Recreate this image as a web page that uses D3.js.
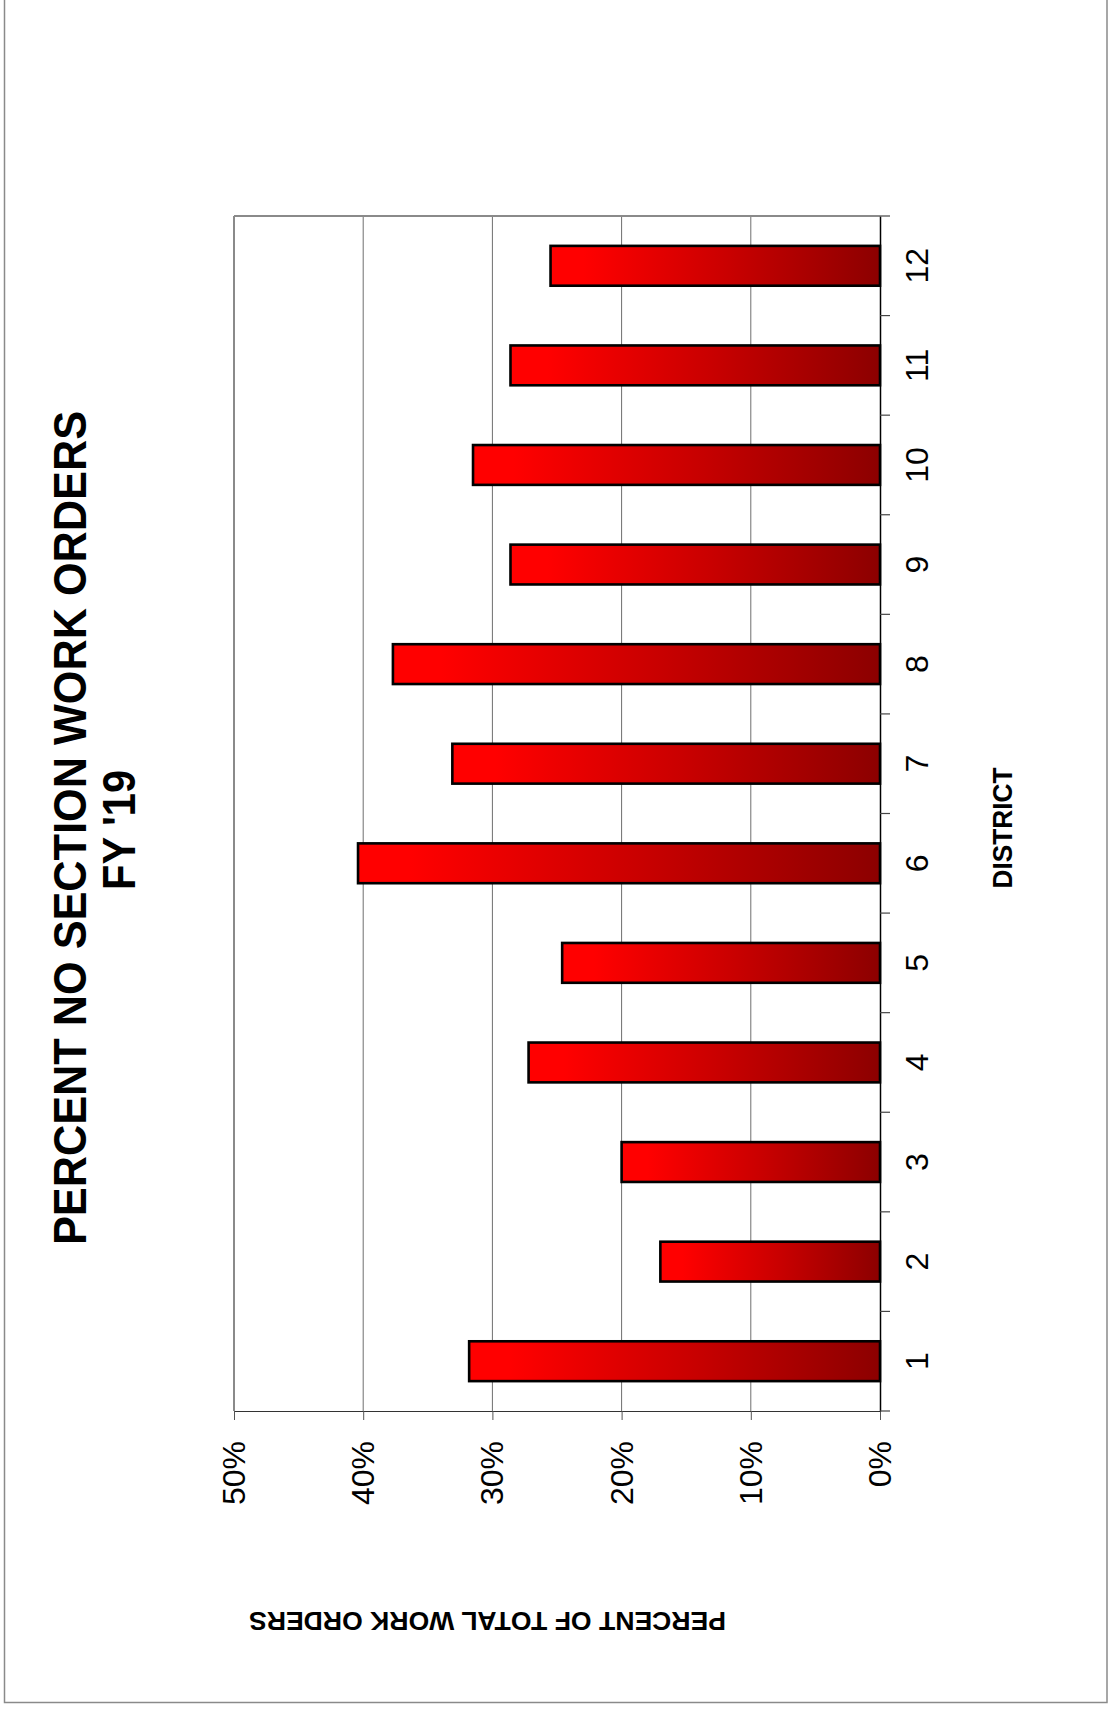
<!DOCTYPE html>
<html>
<head>
<meta charset="utf-8">
<script src="https://cdn.jsdelivr.net/npm/d3@7/dist/d3.min.js"></script>
<style>
  html, body { margin: 0; padding: 0; background: #fff; }
  svg { display: block; }
  text { font-family: "Liberation Sans", Arial, sans-serif; fill: #000; }
</style>
</head>
<body>
<svg id="chart" width="1110" height="1709"></svg>
<script>
// ---- data ----
const districts = ["1","2","3","4","5","6","7","8","9","10","11","12"];
const percentNoSection = [0.318, 0.170, 0.200, 0.272, 0.246, 0.404, 0.331, 0.377, 0.286, 0.315, 0.286, 0.255];
const valueTicks = [0, 0.1, 0.2, 0.3, 0.4, 0.5];
const titleLines = ["PERCENT NO SECTION WORK ORDERS", "FY '19"];
const categoryAxisTitle = "DISTRICT";
const valueAxisTitle = "PERCENT OF TOTAL WORK ORDERS";

const svg = d3.select("#chart");

// outer frame
svg.append("rect")
  .attr("x", 4.5).attr("y", -3).attr("width", 1102.5).attr("height", 1705.5)
  .attr("fill", "none").attr("stroke", "#8a8a8a").attr("stroke-width", 1.5);

// plot geometry (chart is rotated: value axis horizontal, 0% at right)
const plotLeft = 234, plotRight = 880, plotTop = 216, plotBottom = 1411;

const x = d3.scaleLinear().domain([0, 0.5]).range([plotRight, plotLeft]);
const y = d3.scaleBand().domain(districts).range([plotBottom, plotTop])
  .paddingInner(0.6).paddingOuter(0.3);

// gradient per bar
const defs = svg.append("defs");
const grad = defs.append("linearGradient").attr("id", "barGrad")
  .attr("x1", "0").attr("y1", "0").attr("x2", "1").attr("y2", "0");
grad.append("stop").attr("offset", "0").attr("stop-color", "#ff0000");
grad.append("stop").attr("offset", "0.1").attr("stop-color", "#ff0000");
grad.append("stop").attr("offset", "0.55").attr("stop-color", "#c80000");
grad.append("stop").attr("offset", "1").attr("stop-color", "#8c0000");

// gridlines
svg.append("g").selectAll("line")
  .data(valueTicks.filter(v => v > 0 && v < 0.5))
  .join("line")
  .attr("x1", d => x(d)).attr("x2", d => x(d))
  .attr("y1", plotTop).attr("y2", plotBottom)
  .attr("stroke", "#6e6e6e").attr("stroke-width", 1);

// plot area border (top, left)
svg.append("line").attr("x1", plotLeft).attr("x2", plotRight)
  .attr("y1", plotTop).attr("y2", plotTop)
  .attr("stroke", "#8a8a8a").attr("stroke-width", 2);
svg.append("line").attr("x1", plotLeft).attr("x2", plotLeft)
  .attr("y1", plotTop).attr("y2", plotBottom)
  .attr("stroke", "#8a8a8a").attr("stroke-width", 2);

// value axis (bottom)
const xAxis = d3.axisBottom(x).tickValues(valueTicks).tickSize(9).tickFormat("");
const gx = svg.append("g").attr("transform", `translate(0,${plotBottom})`).call(xAxis);
gx.select(".domain").attr("stroke", "#333").attr("stroke-width", 1);
gx.selectAll(".tick line").attr("stroke", "#555").attr("stroke-width", 1);

// value tick labels rotated
svg.append("g").selectAll("text")
  .data(valueTicks)
  .join("text")
  .attr("transform", d => `translate(${x(d) + 11},${plotBottom + 30}) rotate(-90)`)
  .attr("text-anchor", "end")
  .attr("font-size", 32)
  .text(d => d3.format(".0%")(d));

// bars
const step = y.step(), bw = y.bandwidth();
svg.append("g").selectAll("rect")
  .data(districts.map((d, i) => ({ d, v: percentNoSection[i] })))
  .join("rect")
  .attr("x", r => x(r.v))
  .attr("y", r => y(r.d))
  .attr("width", r => x(0) - x(r.v))
  .attr("height", bw)
  .attr("fill", "url(#barGrad)")
  .attr("stroke", "#000").attr("stroke-width", 2.6);

// category axis (right, at 0%)
const yAxis = d3.axisRight(y).tickSize(0).tickFormat("");
const gy = svg.append("g").attr("transform", `translate(${plotRight},0)`).call(yAxis);
gy.select(".domain").attr("stroke", "#000").attr("stroke-width", 1.5);

// boundary ticks between categories
const bounds = districts.map(d => y(d) - (step - bw) / 2).concat([plotBottom]);
svg.append("g").selectAll("line")
  .data(bounds)
  .join("line")
  .attr("x1", plotRight).attr("x2", plotRight + 10)
  .attr("y1", d => d).attr("y2", d => d)
  .attr("stroke", "#444").attr("stroke-width", 1.2);

// category labels rotated
svg.append("g").selectAll("text")
  .data(districts)
  .join("text")
  .attr("transform", d => `translate(928,${y(d) + bw / 2}) rotate(-90)`)
  .attr("text-anchor", "middle")
  .attr("font-size", 32)
  .text(d => d);

// title (rotated)
const titleX = [86, 135], titleY = [828, 830], titleLen = [834, 120];
svg.append("g").selectAll("text")
  .data(titleLines)
  .join("text")
  .attr("transform", (d, i) => `translate(${titleX[i]},${titleY[i]}) rotate(-90)`)
  .attr("text-anchor", "middle")
  .attr("font-size", 46)
  .attr("font-weight", "bold")
  .attr("textLength", (d, i) => titleLen[i])
  .attr("lengthAdjust", "spacingAndGlyphs")
  .text(d => d);

// category axis title
svg.append("text")
  .attr("transform", "translate(1012,828) rotate(-90)")
  .attr("text-anchor", "middle")
  .attr("font-size", 28)
  .attr("font-weight", "bold")
  .attr("textLength", 121)
  .attr("lengthAdjust", "spacingAndGlyphs")
  .text(categoryAxisTitle);

// value axis title (upside down)
svg.append("text")
  .attr("transform", "translate(487.5,1612) rotate(180)")
  .attr("text-anchor", "middle")
  .attr("font-size", 25.5)
  .attr("font-weight", "bold")
  .attr("textLength", 477)
  .attr("lengthAdjust", "spacingAndGlyphs")
  .text(valueAxisTitle);
</script>
</body>
</html>
